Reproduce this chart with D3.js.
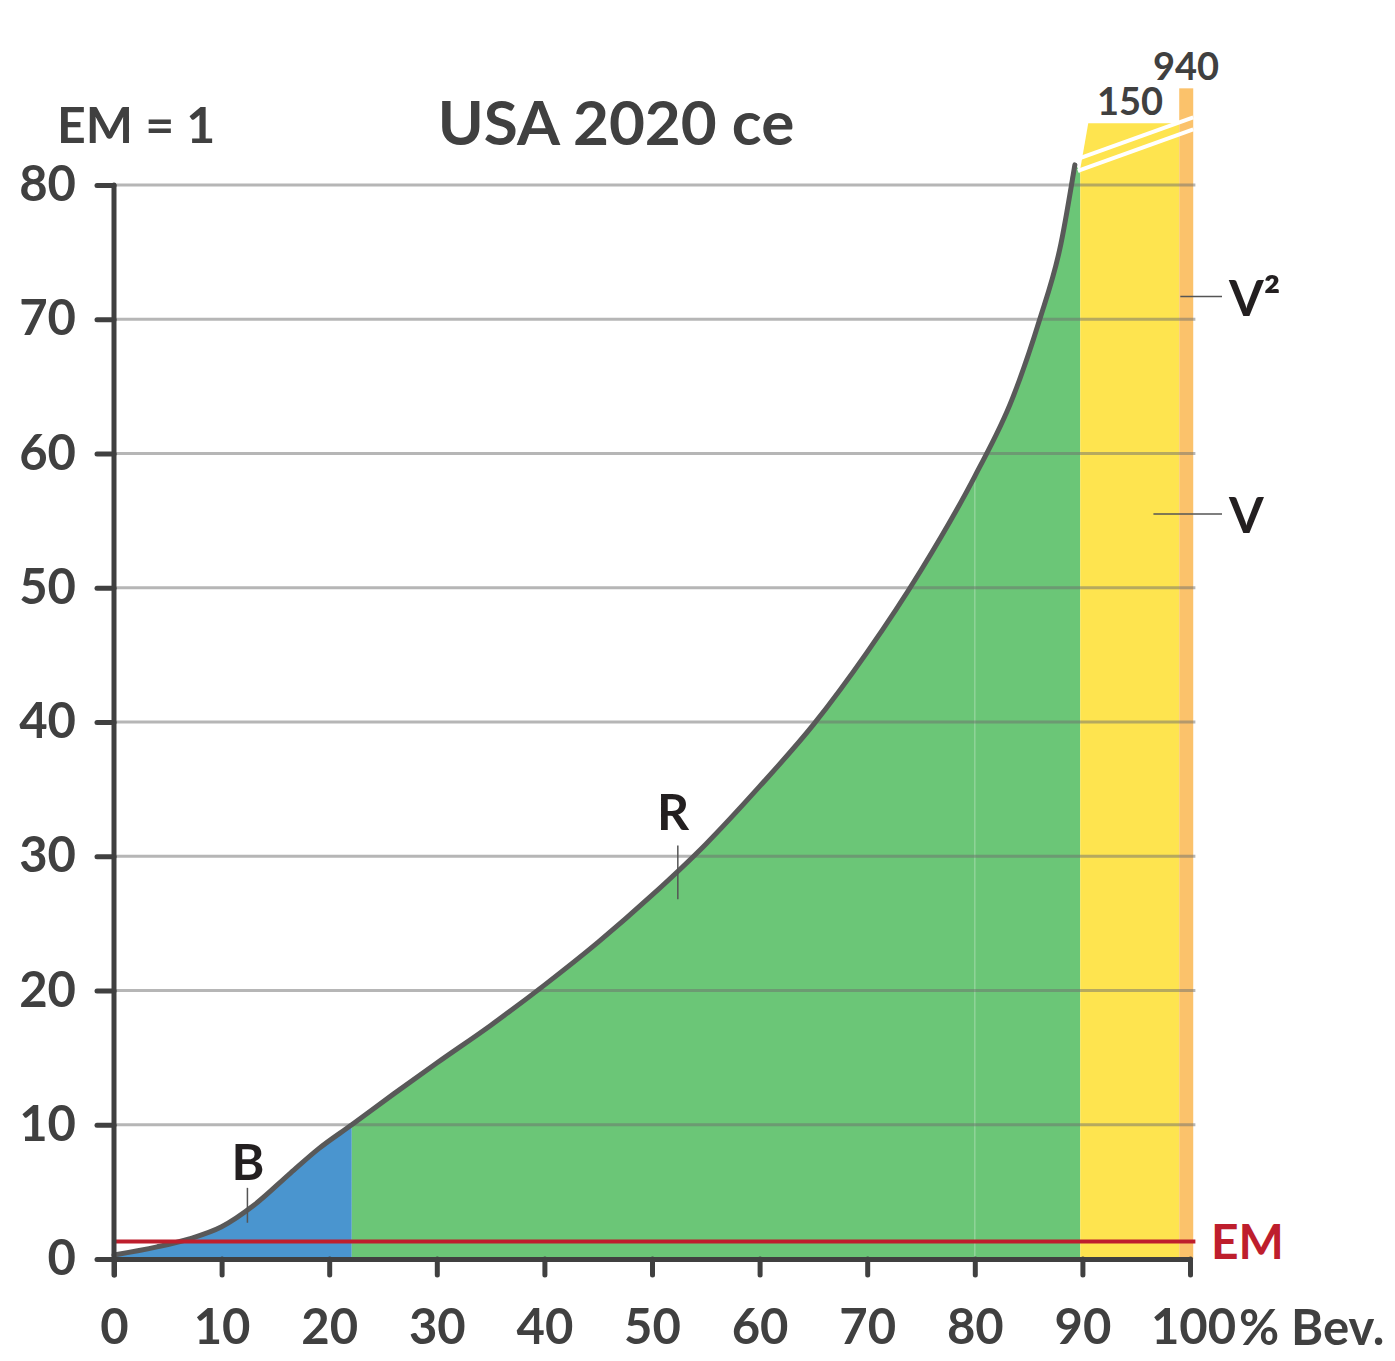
<!DOCTYPE html>
<html>
<head>
<meta charset="utf-8">
<script src="https://cdn.jsdelivr.net/npm/d3@7"></script>
<style>
  body { margin: 0; background: #fff; }
  text { font-family: Lato, "Open Sans", sans-serif; font-weight: bold; }
</style>
</head>
<body>
<div id="chart"></div>
<script>
/* USA 2020 ce - income curve by population share */

const curveX = [0, 4, 7, 10, 13, 16.4, 19, 22.1, 26, 30, 35, 40, 45, 50, 55, 60, 65, 70, 75, 80, 83.5, 86, 88, 89.3];
const curveY = [0.3, 0.9, 1.5, 2.4, 4.0, 6.4, 8.2, 10.0, 12.3, 14.6, 17.4, 20.4, 23.6, 27.1, 30.9, 35.2, 39.8, 45.2, 51.3, 58.3, 64.1, 69.9, 75.6, 81.5];

const bands = ["B", "R", "V", "V²"];
const bandStart = [0, 22.1, 89.8, 99];
const bandEnd = [22.1, 89.8, 99, 100.3];
const bandTop = [null, null, 84.6, 87.2];   // V and V² are cut off at top
const bandTopLabel = [null, null, "150", "940"];

const emValue = 1.3;
const xTicks = [0, 10, 20, 30, 40, 50, 60, 70, 80, 90, 100];
const yTicks = [0, 10, 20, 30, 40, 50, 60, 70, 80];

const width = 1395, height = 1361;
const colors = ["#4a95cf", "#6bc677", "#fee44f", "#fbc26b"];
const ink = "#404040";

const curve = curveX.map((d, i) => ({x: d, y: curveY[i]}));

let svg = d3.select("#chart")
    .append("svg")
    .attr("width", width)
    .attr("height", height);

let x = d3.scaleLinear().domain([0, 100]).range([114, 1190]);
let y = d3.scaleLinear().domain([0, 80]).range([1259, 185]);

// blue + green under the curve
let area = d3.area()
    .x(d => x(d.x))
    .y0(y(0))
    .y1(d => y(d.y))
    .curve(d3.curveMonotoneX);

svg.append("path")
    .datum(curve.filter(d => d.x <= bandEnd[0]))
    .attr("fill", colors[0])
    .attr("d", area);

let greenPts = curve.filter(d => d.x >= bandStart[1]);
greenPts.push({x: bandEnd[1], y: 80.8});
svg.append("path")
    .datum(greenPts)
    .attr("fill", colors[1])
    .attr("d", area);

// faint seam at 80 inside green
svg.append("line")
    .attr("x1", x(80)).attr("x2", x(80))
    .attr("y1", y(0)).attr("y2", y(58.3))
    .attr("stroke", "#fff").attr("stroke-opacity", 0.25).attr("stroke-width", 1.5);

// yellow band with slanted top-left corner
svg.append("path")
    .attr("fill", colors[2])
    .attr("d", d3.line()([
        [x(bandStart[2]), y(0)],
        [x(bandStart[2]), y(81.2)],
        [x(bandStart[2]) + 8, y(bandTop[2])],
        [x(bandEnd[2]), y(bandTop[2])],
        [x(bandEnd[2]), y(0)]
    ]));

svg.append("rect")
    .attr("fill", colors[3])
    .attr("x", x(bandStart[3]))
    .attr("width", x(bandEnd[3]) - x(bandStart[3]))
    .attr("y", y(bandTop[3]))
    .attr("height", y(0) - y(bandTop[3]));

// gridlines over the fills
svg.append("g")
    .selectAll("line")
    .data(yTicks.filter(d => d > 0))
    .join("line")
    .attr("x1", x(0)).attr("x2", x(100.5))
    .attr("y1", d => y(d)).attr("y2", d => y(d))
    .attr("stroke", "#6e6e6e")
    .attr("stroke-opacity", 0.5)
    .attr("stroke-width", 3);

// the curve
svg.append("path")
    .datum(curve)
    .attr("fill", "none")
    .attr("stroke", "#595959")
    .attr("stroke-width", 5)
    .attr("stroke-linecap", "round")
    .attr("d", d3.line().x(d => x(d.x)).y(d => y(d.y)).curve(d3.curveMonotoneX));

// white break lines across the cut-off bands
const curveEnd = curve[curve.length - 1];
[0, 12].forEach(off => {
    svg.append("line")
        .attr("x1", x(curveEnd.x) + 3).attr("y1", y(curveEnd.y) - 6 + off)
        .attr("x2", x(bandEnd[3])).attr("y2", y(bandTop[3]) + 29 + off)
        .attr("stroke", "#fff")
        .attr("stroke-width", 4);
});

svg.selectAll(".toplabel")
    .data(bandTopLabel.map((d, i) => ({t: d, i: i})).filter(d => d.t))
    .join("text")
    .attr("class", "toplabel")
    .attr("x", d => d.i === 2 ? 1130 : 1186)
    .attr("y", d => y(bandTop[d.i]) - 8)
    .attr("text-anchor", "middle")
    .attr("font-size", 38)
    .attr("fill", ink)
    .text(d => d.t);

// EM line
svg.append("line")
    .attr("x1", x(0)).attr("x2", x(100.5))
    .attr("y1", y(emValue)).attr("y2", y(emValue))
    .attr("stroke", "#be1e2d")
    .attr("stroke-width", 4);

svg.append("text")
    .attr("x", 1211)
    .attr("y", y(emValue) + 17)
    .attr("font-size", 48)
    .attr("fill", "#be1e2d")
    .text("EM");

// axes
let yAxis = svg.append("g")
    .attr("transform", `translate(${x(0)},0)`)
    .call(d3.axisLeft(y).tickValues(yTicks).tickSize(17).tickSizeOuter(0).tickPadding(21));

let xAxis = svg.append("g")
    .attr("transform", `translate(0,${y(0)})`)
    .call(d3.axisBottom(x).tickValues(xTicks).tickSize(16).tickSizeOuter(0).tickPadding(34));

[yAxis, xAxis].forEach(g => {
    g.selectAll("path, line")
        .attr("stroke", ink)
        .attr("stroke-width", 5)
        .attr("stroke-linecap", "round");
    g.selectAll("text")
        .attr("fill", ink)
        .style("font-family", "Lato, sans-serif")
        .style("font-weight", "bold")
        .attr("font-size", 49);
});
yAxis.select(".domain").attr("d", `M0,${y(80)}V${y(0) + 16}`);
xAxis.selectAll(".tick text").filter(d => d === 100).attr("dx", 3);

svg.append("text")
    .attr("x", 1239)
    .attr("y", 1345)
    .attr("font-size", 49)
    .attr("fill", ink)
    .text("% Bev.");

// titles
svg.append("text")
    .attr("x", 616)
    .attr("y", 145)
    .attr("text-anchor", "middle")
    .attr("font-size", 62)
    .attr("fill", ink)
    .text("USA 2020 ce");

svg.append("text")
    .attr("x", 57)
    .attr("y", 143)
    .attr("font-size", 50)
    .attr("fill", ink)
    .text("EM = 1");

// band labels with leader lines
const labelInk = "#231f20";
const labels = [
    {t: bands[0], lx: 12.4, ly0: 2.7, ly1: 5.3, tx: 248, ty: 1180},
    {t: bands[1], lx: 52.4, ly0: 26.8, ly1: 30.8, tx: 673, ty: 830}
];
labels.forEach(l => {
    svg.append("line")
        .attr("x1", x(l.lx)).attr("x2", x(l.lx))
        .attr("y1", y(l.ly0)).attr("y2", y(l.ly1))
        .attr("stroke", "#555").attr("stroke-width", 1.5);
    svg.append("text")
        .attr("x", l.tx).attr("y", l.ty)
        .attr("text-anchor", "middle")
        .attr("font-size", 50)
        .attr("fill", labelInk)
        .text(l.t);
});

const sideLabels = [
    {t: bands[3], x0: 99.1, yv: 71.7, ty: 316},
    {t: bands[2], x0: 96.6, yv: 55.5, ty: 533}
];
sideLabels.forEach(l => {
    svg.append("line")
        .attr("x1", x(l.x0)).attr("x2", 1222)
        .attr("y1", y(l.yv)).attr("y2", y(l.yv))
        .attr("stroke", "#555").attr("stroke-width", 1.5);
    svg.append("text")
        .attr("x", 1229).attr("y", l.ty)
        .attr("font-size", 50)
        .attr("fill", labelInk)
        .text(l.t);
});
</script>
</body>
</html>
